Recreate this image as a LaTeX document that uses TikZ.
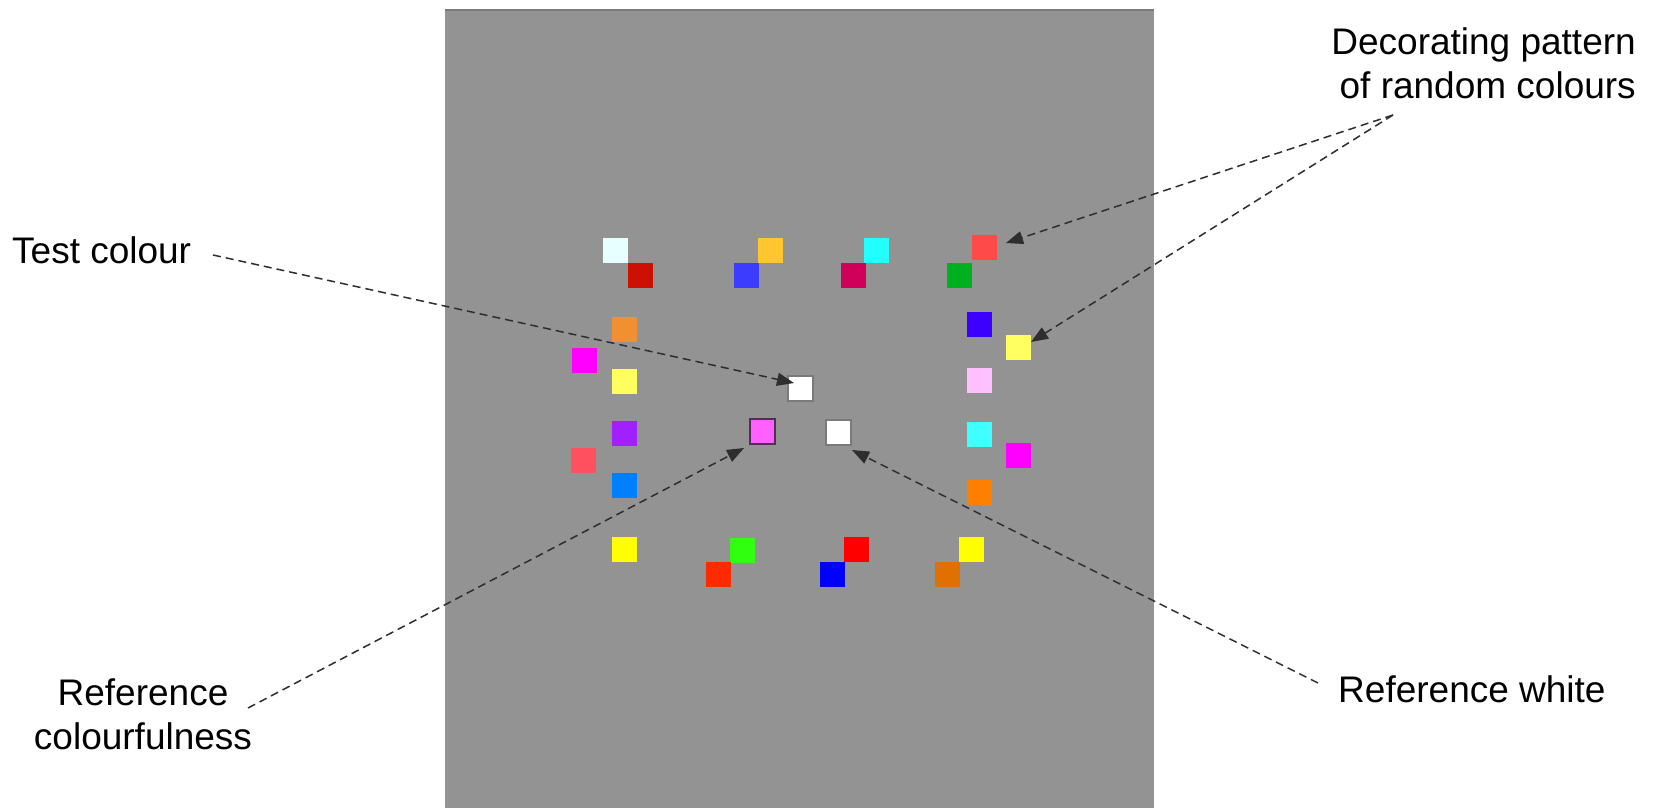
\documentclass[tikz,border=0pt]{standalone}
\usepackage{fontspec}
\setmainfont{Liberation Sans}
\usetikzlibrary{arrows.meta,calc}
\definecolor{bggray}{HTML}{939393}
\definecolor{edgegray}{HTML}{7A7A7A}
\definecolor{arrgray}{HTML}{2E2E2E}
\definecolor{cLightCyan}{HTML}{E8FFFF}
\definecolor{cDarkRed}{HTML}{CC1100}
\definecolor{cGold}{HTML}{FFC630}
\definecolor{cBlue}{HTML}{3C3CFF}
\definecolor{cCyan}{HTML}{22FFFF}
\definecolor{cCrimson}{HTML}{D0005A}
\definecolor{cCoral}{HTML}{FF4A4A}
\definecolor{cGreen}{HTML}{00B020}
\definecolor{cViolet}{HTML}{3C00FF}
\definecolor{cLightYellow}{HTML}{FFFF60}
\definecolor{cLightPink}{HTML}{FFC0FF}
\definecolor{cOrange}{HTML}{F09030}
\definecolor{cMagenta}{HTML}{FF00FF}
\definecolor{cPurple}{HTML}{A020FF}
\definecolor{cPinkRed}{HTML}{FF5060}
\definecolor{cAzure}{HTML}{0080FF}
\definecolor{cPinkRef}{HTML}{FF60FF}
\definecolor{cPinkEdge}{HTML}{503050}
\definecolor{cYellow}{HTML}{FFFF00}
\definecolor{cLime}{HTML}{30FF10}
\definecolor{cRedOrange}{HTML}{FF2A00}
\definecolor{cRed}{HTML}{FF0000}
\definecolor{cPureBlue}{HTML}{0000FF}
\definecolor{cDarkOrange}{HTML}{E07000}
\definecolor{cCyanR}{HTML}{40FFFF}
\definecolor{cOrangeR}{HTML}{FF8000}
\begin{document}
\begin{tikzpicture}[x=1pt,y=1pt,
  patch/.style={anchor=north west,minimum size=25pt,inner sep=0pt,outer sep=0pt,fill=#1,draw=none},
  whitepatch/.style={anchor=north west,minimum size=25pt,inner sep=0pt,outer sep=0pt,fill=white,draw=edgegray,line width=1.2pt},
  label/.style={inner sep=0pt,font=\fontsize{37}{44}\selectfont},
  pointer/.style={draw=arrgray,line width=1.5pt,dash pattern=on 8pt off 5pt,-{Triangle[length=17pt,width=13pt]}}
]
\useasboundingbox (0,0) rectangle (1655,-808);
\fill[white] (0,0) rectangle (1655,-808);
% stimulus background
\fill[bggray] (445,-9) rectangle (1154,-808);
\draw[edgegray,line width=2pt] (445,-10) -- (1154,-10);

% decorating patches
\node[patch=cLightCyan] (p1) at (603,-238) {};
\node[patch=cDarkRed] (p2) at (628,-263) {};
\node[patch=cGold] (p3) at (758,-238) {};
\node[patch=cBlue] (p4) at (734,-263) {};
\node[patch=cCyan] (p5) at (864,-238) {};
\node[patch=cCrimson] (p6) at (841,-263) {};
\node[patch=cCoral] (p7) at (972,-235) {};
\node[patch=cGreen] (p8) at (947,-263) {};
\node[patch=cViolet] (p9) at (967,-312) {};
\node[patch=cLightYellow] (p10) at (1006,-335) {};
\node[patch=cLightPink] (p11) at (967,-368) {};
\node[patch=cOrange] (p12) at (612,-317) {};
\node[patch=cMagenta] (p13) at (572,-348) {};
\node[patch=cLightYellow] (p14) at (612,-369) {};
\node[patch=cPurple] (p16) at (612,-421) {};
\node[patch=cPinkRed] (p17) at (571,-448) {};
\node[patch=cAzure] (p18) at (612,-473) {};
\node[patch=cYellow] (p21) at (612,-537) {};
\node[patch=cLime] (p22) at (730,-538) {};
\node[patch=cRedOrange] (p23) at (706,-562) {};
\node[patch=cRed] (p24) at (844,-537) {};
\node[patch=cPureBlue] (p25) at (820,-562) {};
\node[patch=cYellow] (p26) at (959,-537) {};
\node[patch=cDarkOrange] (p27) at (935,-562) {};
\node[patch=cCyanR] (p28) at (967,-422) {};
\node[patch=cMagenta] (p29) at (1006,-443) {};
\node[patch=cOrangeR] (p30) at (967,-480) {};

% test and reference patches
\node[whitepatch] (test) at (788,-376) {};
\node[patch=cPinkRef,draw=cPinkEdge,line width=1.2pt] (refc) at (750,-419) {};
\node[whitepatch] (refw) at (826,-420) {};

% labels
\node[label,anchor=base west] (ltest) at (12,-263) {Test colour};
\node[label,anchor=base] (lrefc) at (143,-705) {\begin{tabular}[t]{@{}c@{}}Reference\\colourfulness\end{tabular}};
\node[label,anchor=base west] (lrefw) at (1338,-702) {Reference white};
\node[label,anchor=base east] (ldec) at (1636,-55) {\begin{tabular}[t]{@{}r@{}}Decorating pattern\\of random colours\end{tabular}};

% connector start points
\coordinate (stest) at (213,-255);
\coordinate (srefc) at (248,-708);
\coordinate (srefw) at (1318,-683);
\coordinate (sdec) at (1393,-115);

\draw[pointer] (stest) -- ($(test.north west)+(6,-7)$);
\draw[pointer] (srefc) -- ($(refc.south west)+(-6,-4)$);
\draw[pointer] (srefw) -- ($(refw.south east)+(1,-5)$);
\draw[pointer] (sdec) -- ($(p7.east)+(9,4.5)$);
\draw[pointer] (sdec) -- ($(p10.north east)+(0,-7)$);
\end{tikzpicture}
\end{document}
